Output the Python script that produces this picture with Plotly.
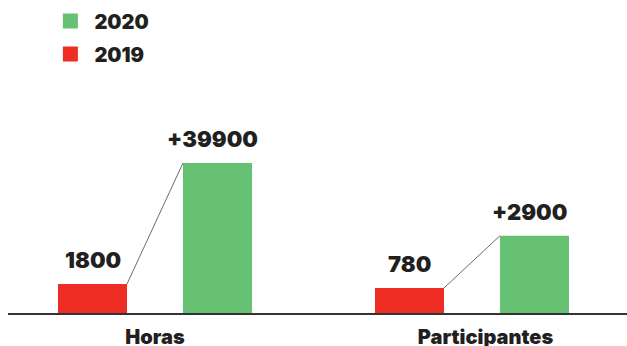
import math
import plotly.graph_objects as go

# ---- data ----
categories = ["Horas", "Participantes"]
values_2019 = [1800, 780]
values_2020 = [39900, 2900]
labels_2019 = ["1800", "780"]
labels_2020 = ["+39900", "+2900"]
series_names = ["2019", "2020"]

# ---- style ----
RED = "#ee2e24"
GREEN = "#67c172"
TEXT = "#231f20"
FONT = "Inter"
WEIGHT = 900
BAR_W = 0.2177
OFF_19 = -0.306
OFF_20 = 0.0883
LABEL_SHIFT = [0.0, 0.0426]
# each category has its own (log) value axis
axis_ids = ["y", "y2"]
axis_ranges = [[2.9327, 5.302], [2.6195, 4.942]]

fig = go.Figure()
annotations = []
for i, cat in enumerate(categories):
    ax = axis_ids[i]
    fig.add_trace(go.Bar(x=[i], y=[values_2019[i]], width=BAR_W, offset=OFF_19,
                         marker=dict(color=RED, line=dict(width=0)), yaxis=ax,
                         showlegend=False, name=series_names[0], hoverinfo="skip"))
    fig.add_trace(go.Bar(x=[i], y=[values_2020[i]], width=BAR_W, offset=OFF_20,
                         marker=dict(color=GREEN, line=dict(width=0)), yaxis=ax,
                         showlegend=False, name=series_names[1], hoverinfo="skip"))
    # connector from top-right of 2019 bar to top-left of 2020 bar
    fig.add_trace(go.Scatter(x=[i + OFF_19 + BAR_W, i + OFF_20],
                             y=[values_2019[i], values_2020[i]],
                             mode="lines", line=dict(color="#6b6b6b", width=1),
                             yaxis=ax, showlegend=False, hoverinfo="skip"))
    yref = ax
    annotations.append(dict(x=i + OFF_19 + BAR_W / 2, y=math.log10(values_2019[i]),
                            xref="x", yref=yref, text=labels_2019[i], showarrow=False,
                            yanchor="bottom", yshift=9,
                            font=dict(family=FONT, size=22, color=TEXT, weight=WEIGHT)))
    annotations.append(dict(x=i + OFF_20 + BAR_W / 2, y=math.log10(values_2020[i]),
                            xref="x", yref=yref, text=labels_2020[i], showarrow=False,
                            yanchor="bottom", yshift=9, xshift=-5,
                            font=dict(family=FONT, size=22, color=TEXT, weight=WEIGHT)))

# legend entries (2020 first, then 2019)
for name, col in [(series_names[1], GREEN), (series_names[0], RED)]:
    fig.add_trace(go.Scatter(x=[None], y=[None], mode="markers", name=name,
                             legendgroup=name,
                             marker=dict(symbol="square", size=15, color=col,
                                         line=dict(width=0))))

fig.update_layout(
    width=627, height=346,
    margin=dict(l=8, r=0, t=100, b=33, autoexpand=False),
    paper_bgcolor="white", plot_bgcolor="white",
    barmode="overlay",
    font=dict(family=FONT, color=TEXT),
    annotations=annotations,
    showlegend=True,
    legend=dict(x=0.062, y=1.463, xanchor="left", yanchor="top",
                traceorder="grouped", tracegroupgap=4, itemwidth=38,
                font=dict(family=FONT, size=20, color=TEXT, weight=WEIGHT),
                bgcolor="rgba(0,0,0,0)"),
    xaxis=dict(range=[-0.4637, 1.489], showgrid=False, zeroline=False,
               showline=True, linecolor="#333333", linewidth=2, automargin=False,
               tickmode="array", tickvals=[i + LABEL_SHIFT[i] for i in range(len(categories))],
               ticktext=categories, ticks="", ticklabelstandoff=5,
               tickfont=dict(family=FONT, size=20, color=TEXT, weight=WEIGHT)),
    yaxis=dict(type="log", range=axis_ranges[0], visible=False, showgrid=False,
               automargin=False),
    yaxis2=dict(type="log", range=axis_ranges[1], visible=False, showgrid=False,
                overlaying="y", automargin=False),
)

fig.write_html("out.html")
